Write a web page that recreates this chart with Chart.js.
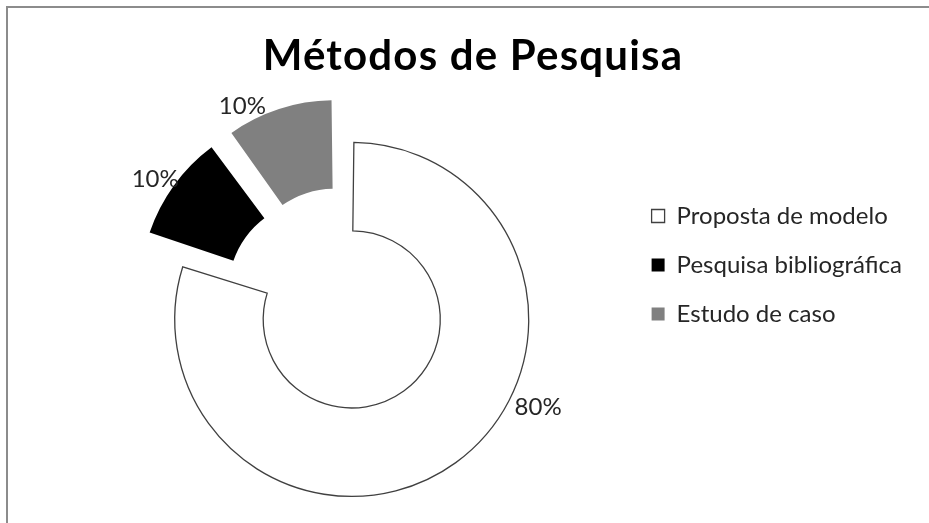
<!DOCTYPE html>
<html>
<head>
<meta charset="utf-8">
<script src="https://cdn.jsdelivr.net/npm/chart.js@4.4.1/dist/chart.umd.min.js"></script>
<style>
  html, body { margin: 0; padding: 0; background: #fff; overflow: hidden; }
  #wrap { position: relative; width: 929px; height: 523px; overflow: hidden; }
  /* grey frame of the Excel chart object, only top and left edges are visible */
  #frame { position: absolute; left: 6px; top: 6px; right: -10px; bottom: -10px;
           border-left: 2px solid #8c8c8c; border-top: 2px solid #8c8c8c; }
  #title { position: absolute; left: 0; width: 946px; top: 33px; text-align: center;
           font: bold 42px Lato, sans-serif; line-height: 42px; letter-spacing: 1.2px; color: #000; }
  canvas { position: absolute; left: 0; top: 0; }
</style>
</head>
<body>
<div id="wrap">
  <div id="frame"></div>
  <canvas id="chart" width="929" height="523"></canvas>
  <div id="title"></div>
</div>
<script>
const chartTitle = 'Métodos de Pesquisa';
const categories = ['Proposta de modelo', 'Pesquisa bibliográfica', 'Estudo de caso'];
const shares = [80, 10, 10];

const fills   = ['#ffffff', '#000000', '#808080'];
const borders = ['#404040', '#000000', '#808080'];
const borderW = [1.3, 0, 0];
// chart.js moves an arc by offset/4 and also grows it, so small and big slices need different values
const explode = [54, 131, 131];
// where the % label sits along each arc (0 = start, 1 = end) and how far outside the ring
const labelAt  = [0.40, 0.45, 0.22];
const labelGap = [29, 19, 17];

document.getElementById('title').textContent = chartTitle;

const pctLabels = {
  id: 'pctLabels',
  afterDatasetsDraw(chart) {
    const {ctx} = chart;
    const meta = chart.getDatasetMeta(0);
    const total = shares.reduce((s, v) => s + v, 0);
    ctx.save();
    ctx.font = '24px Lato';
    ctx.fillStyle = '#262626';
    ctx.textAlign = 'center';
    ctx.textBaseline = 'middle';
    meta.data.forEach((arc, i) => {
      const {x, y, startAngle, endAngle, outerRadius} =
        arc.getProps(['x', 'y', 'startAngle', 'endAngle', 'outerRadius'], true);
      const shift = (arc.options.offset || 0) / 4;
      const grow = shift * (1 - Math.sin(Math.min(Math.PI, endAngle - startAngle)));
      const mid = (startAngle + endAngle) / 2;
      const cx = x + Math.cos(mid) * shift;
      const cy = y + Math.sin(mid) * shift;
      const a = startAngle + labelAt[i] * (endAngle - startAngle);
      const r = outerRadius + grow + labelGap[i];
      ctx.fillText(Math.round(shares[i] / total * 100) + '%', cx + Math.cos(a) * r, cy + Math.sin(a) * r);
    });
    ctx.restore();
  }
};

new Chart(document.getElementById('chart'), {
  type: 'doughnut',
  data: {
    labels: categories,
    datasets: [{
      data: shares,
      backgroundColor: fills,
      borderColor: borders,
      borderWidth: borderW,
      borderJoinStyle: 'miter',
      offset: explode,
      hoverOffset: 0,
      clip: false
    }]
  },
  options: {
    responsive: false,
    animation: false,
    events: [],
    radius: 163.5,
    cutout: '45.9%',
    layout: {padding: {left: 61, right: 17, top: 179, bottom: 85}},
    plugins: {
      title: {display: false},
      tooltip: {enabled: false},
      legend: {
        position: 'right',
        align: 'start',
        labels: {
          font: {family: 'Lato', size: 24},
          color: '#262626',
          boxWidth: 13,
          boxHeight: 13,
          padding: 25
        }
      }
    }
  },
  plugins: [pctLabels]
});
</script>
</body>
</html>
